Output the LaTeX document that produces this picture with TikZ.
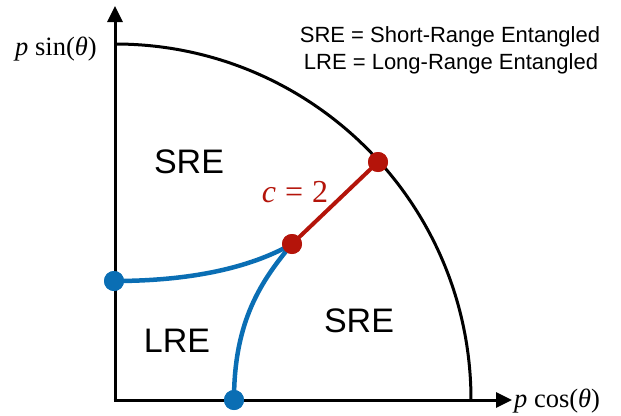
\documentclass[tikz,border=0pt]{standalone}
\usepackage{fontspec}
\setmainfont{Liberation Serif}
\newfontfamily\lsans{Liberation Sans}
\newfontfamily\lserif{Liberation Serif}
\usetikzlibrary{arrows.meta}
\definecolor{dotred}{RGB}{180,20,10}
\definecolor{dotblue}{RGB}{10,110,180}
\tikzset{
  axis/.style={line width=3pt,-{Triangle[length=16pt,width=15pt]}},
  bound/.style={line width=3pt},
  bluecurve/.style={line width=4.5pt,draw=dotblue},
  redline/.style={line width=4pt,draw=dotred},
  bdot/.style={circle,fill=dotblue,minimum size=20pt,inner sep=0pt},
  rdot/.style={circle,fill=dotred,minimum size=20pt,inner sep=0pt},
  region/.style={font=\lsans\fontsize{34}{34}\selectfont,inner sep=0pt},
  legend/.style={font=\lsans\fontsize{22}{22}\selectfont,inner sep=0pt},
  axlabel/.style={font=\lserif\fontsize{26.5}{26.5}\selectfont,inner sep=0pt},
  clabel/.style={font=\lserif\fontsize{32}{32}\selectfont,inner sep=0pt},
}
\begin{document}
\begin{tikzpicture}[x=1pt,y=-1pt]
\useasboundingbox (0,0) rectangle (621,415);
\coordinate (O) at (115,400);
\coordinate (ytip) at (115,6);
\coordinate (xtip) at (512,400);
\draw[axis] (115,401.5) -- (ytip);
\draw[axis] (113.5,400) -- (xtip);
\draw[bound] (115,44) arc[start angle=-90,end angle=0,radius=356];
% dots
\node[bdot] (bl) at (114,281) {};
\node[bdot] (bb) at (234,400) {};
\node[rdot] (ri) at (292,244) {};
\node[rdot] (ro) at (378,162) {};
\draw[bluecurve] (bl.center) .. controls (190,281) and (250,268) .. (ri.center);
\draw[bluecurve] (bb.center) .. controls (234,320) and (262,280) .. (ri.center);
\draw[redline] (ri.center) -- (ro.center);
\node[rdot] at (ri) {};
\node[rdot] at (ro) {};
\node[bdot] at (bl) {};
\node[bdot] at (bb) {};
% labels
\node[region] (sre1) at (189,161.5) {SRE};
\node[region] (sre2) at (359,321) {SRE};
\node[region] (lre) at (177,341) {LRE};
\node[clabel,text=dotred,anchor=base] (c2) at (295,202) {{\itshape c}\hspace{9pt}=\hspace{9pt}2};
\node[axlabel,anchor=base west] (ylab) at (15,55) {{\itshape p} sin({\itshape θ})};
\node[axlabel,anchor=base west] (xlab) at (514,407) {{\itshape p} cos({\itshape θ})};
\node[legend,anchor=base] (l1) at (450,42) {SRE = Short-Range Entangled};
\node[legend,anchor=base] (l2) at (451,69) {LRE = Long-Range Entangled};
\end{tikzpicture}
\end{document}
